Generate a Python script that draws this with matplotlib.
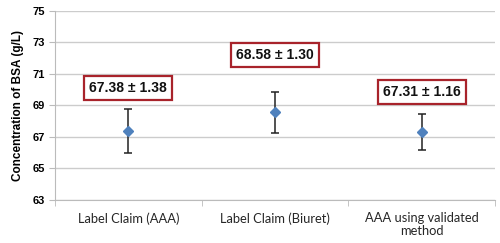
import matplotlib
matplotlib.use("Agg")
import matplotlib.pyplot as plt
import numpy as np

categories = ["Label Claim (AAA)", "Label Claim (Biuret)", "AAA using validated\nmethod"]
means = [67.38, 68.58, 67.31]
sds = [1.38, 1.30, 1.16]
box_y = [70.1, 72.2, 69.85]
y_ticks = [63, 65, 67, 69, 71, 73, 75]

fig = plt.figure(figsize=(5.0, 2.43), dpi=100)
ax = fig.add_axes([0.11, 0.177, 0.88, 0.778])

x = np.arange(len(categories))
ax.errorbar(x, means, yerr=sds, fmt="none", ecolor="#222222", elinewidth=1.1,
            capsize=3, capthick=1.1, zorder=3)
ax.plot(x, means, linestyle="none", marker="D", markersize=5,
        color="#4F81BD", zorder=4)

for xi, m, s, by in zip(x, means, sds, box_y):
    ax.text(xi, by, f"{m:.2f} \u00b1 {s:.2f}",
            ha="center", va="center", fontsize=10, fontweight="bold",
            family="Liberation Sans", color="#111111", zorder=5,
            bbox=dict(boxstyle="square,pad=0.38", facecolor="white",
                      edgecolor="#A8232B", linewidth=1.6))

ax.set_xlim(-0.5, 2.5)
ax.set_ylim(63, 75)
ax.set_yticks(y_ticks)
ax.set_yticklabels([str(t) for t in y_ticks], fontsize=8, fontweight="bold",
                   family="Liberation Sans")
ax.set_xticks(x)
ax.set_xticklabels(categories, fontsize=9.3, family="Lato", color="#262626",
                   linespacing=1.05)
ax.set_xticks([-0.5, 0.5, 1.5, 2.5], minor=True)
ax.tick_params(axis="x", which="major", length=0, pad=9)
ax.tick_params(axis="x", which="minor", length=4, color="#BBBBBB", direction="out")
ax.tick_params(axis="y", length=4, color="#BBBBBB", pad=3)

ax.set_ylabel("Concentration of BSA (g/L)", fontsize=8.5, fontweight="bold",
              family="Liberation Sans", labelpad=6)

ax.grid(axis="y", color="#CCCCCC", linewidth=1.0)
ax.set_axisbelow(True)
for side in ["top", "right"]:
    ax.spines[side].set_visible(False)
for side in ["left", "bottom"]:
    ax.spines[side].set_color("#BBBBBB")

plt.savefig("out.png", dpi=100)
